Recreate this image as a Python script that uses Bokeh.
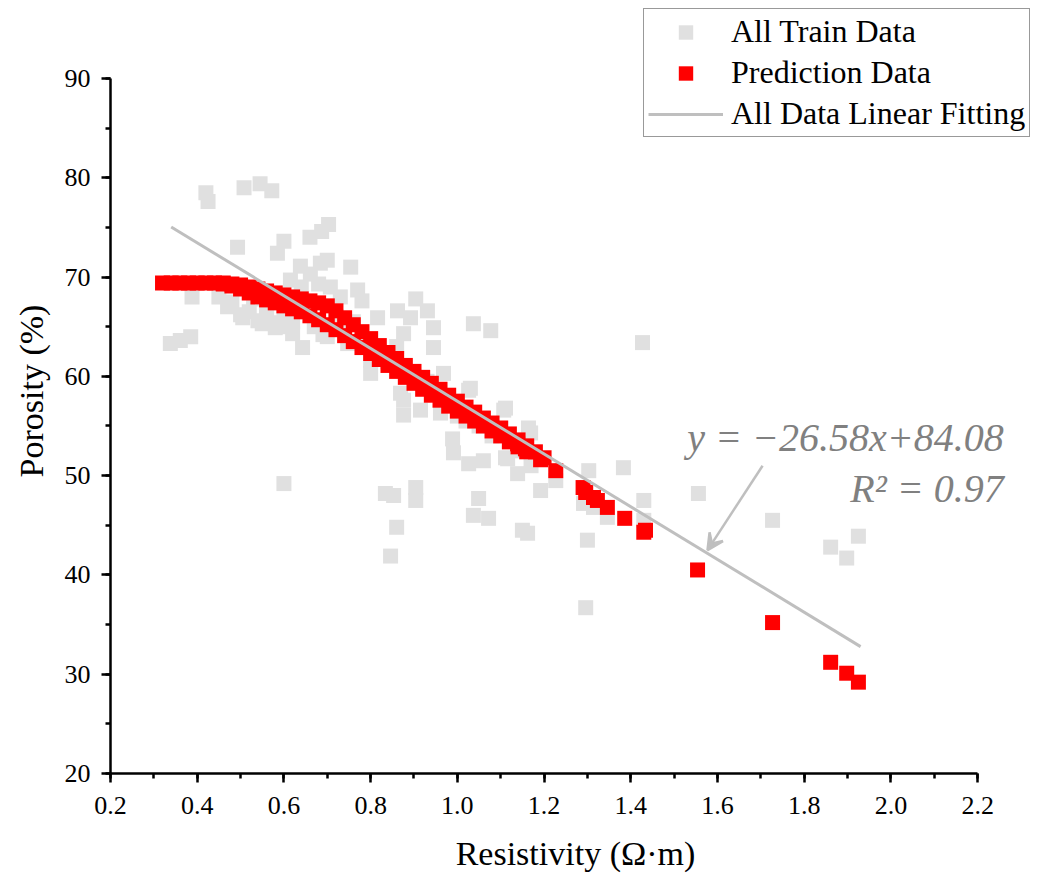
from bokeh.plotting import figure
from bokeh.models import (Legend, LegendItem, Label, Arrow, VeeHead, NumeralTickFormatter,
                          SingleIntervalTicker, Range1d)
from bokeh.embed import file_html
from bokeh.resources import INLINE

# ---- data ----
train_x = [0.420, 0.425, 0.508, 0.545, 0.572, 0.493, 0.600, 0.585, 0.660, 0.687, 0.703,
           0.638, 0.684, 0.388, 0.450, 0.505, 0.550, 0.580, 0.620, 0.643, 0.361, 0.385,
           0.338, 0.615, 0.661, 0.700, 0.754, 0.707, 0.770, 0.780, 0.904, 0.931, 0.862,
           0.816, 0.892, 0.945, 1.037, 1.077, 0.747, 0.800, 0.800, 0.876, 0.945, 0.869,
           0.968, 1.030, 0.876, 0.876, 0.915, 0.961, 1.026, 0.989, 0.991, 1.026, 1.060,
           1.107, 1.116, 0.834, 0.853, 0.904, 0.904, 1.049, 1.037, 1.072, 0.860, 0.846,
           1.427, 1.111, 1.164, 1.169, 1.111, 1.139, 1.227, 1.192, 1.303, 1.383, 1.291,
           1.314, 1.346, 1.430, 1.430, 1.150, 1.162, 1.300, 1.296, 1.556, 1.727, 1.861,
           1.898, 1.925, 0.600,
           0.480, 0.520, 0.530, 0.560, 0.600, 0.620, 0.650, 0.670, 0.690, 0.720, 0.740,
           0.760, 0.780, 0.820, 0.840, 0.860, 0.880, 0.900, 0.930, 0.950, 0.980, 1.000,
           1.020, 1.050, 1.080, 1.120, 1.140, 1.170, 0.640, 0.680, 0.730, 0.500, 0.590,
           0.470, 0.540, 0.560, 0.610, 0.700]
train_y = [78.5, 77.6, 79.0, 79.4, 78.7, 73.0, 73.6, 72.4, 74.0, 74.6, 75.3,
           71.1, 71.4, 68.0, 68.0, 65.9, 65.3, 64.9, 64.3, 62.9, 63.6, 64.0,
           63.3, 69.7, 70.3, 71.7, 71.0, 69.0, 68.7, 67.6, 67.8, 66.6, 66.6,
           65.9, 65.9, 64.9, 65.3, 64.6, 63.3, 61.6, 60.3, 64.3, 62.9, 58.3,
           60.3, 58.8, 57.6, 56.1, 56.6, 56.3, 58.6, 53.7, 52.3, 51.2, 51.5,
           56.6, 51.7, 48.2, 48.0, 48.8, 47.5, 47.7, 46.0, 45.7, 44.8, 41.9,
           63.4, 56.8, 54.8, 54.3, 51.8, 50.2, 49.5, 48.5, 50.5, 50.8, 47.2,
           46.8, 45.8, 47.5, 45.5, 44.5, 44.2, 43.5, 36.7, 48.2, 45.5, 42.8,
           41.7, 43.9, 49.2,
           67.5, 66.5, 67.8, 66.0, 66.5, 65.5, 66.8, 65.0, 64.2, 66.0, 64.8,
           65.5, 63.5, 62.5, 61.5, 63.0, 61.0, 60.0, 59.5, 58.5, 57.5, 56.0,
           55.5, 55.0, 54.0, 53.5, 52.5, 51.0, 69.0, 69.3, 68.0, 66.2, 65.4,
           67.0, 65.6, 66.8, 65.0, 64.0]

pred_x = [0.32, 0.34, 0.36, 0.38, 0.40, 0.42, 0.44, 0.46, 0.48, 0.50, 0.52, 0.54, 0.56,
          0.58, 0.60, 0.62, 0.64, 0.66, 0.68, 0.70, 0.72, 0.74, 0.76, 0.78, 0.80, 0.82,
          0.84, 0.86, 0.88, 0.90, 0.92, 0.94, 0.96, 0.98, 1.00, 1.02, 1.04, 1.06, 1.08,
          1.10, 1.12, 1.14, 1.16, 1.18, 1.20,
          0.46, 0.48, 0.50, 0.52, 0.54, 0.56, 0.58, 0.60, 0.62, 0.64, 0.66, 0.68, 0.70,
          0.72, 0.74, 0.76, 0.78, 0.80, 0.82, 0.84, 0.86, 0.88, 0.90, 0.92, 0.94, 0.96,
          0.98, 1.00, 1.02, 1.04, 1.06, 1.08, 1.10, 1.12, 1.14, 1.16,
          1.139, 1.157, 1.192, 1.227, 1.290, 1.296, 1.314, 1.323, 1.346, 1.386, 1.430,
          1.434, 1.554, 1.727, 1.861, 1.898, 1.925]
pred_y = [69.4, 69.4, 69.4, 69.4, 69.4, 69.4, 69.4, 69.4, 69.3, 69.2, 69.0, 68.8, 68.6,
          68.4, 68.2, 68.0, 67.8, 67.6, 67.4, 67.1, 66.6, 65.9, 65.2, 64.5, 63.8, 63.1,
          62.4, 61.8, 61.1, 60.5, 59.9, 59.3, 58.7, 58.1, 57.5, 56.9, 56.4, 55.8, 55.3,
          54.8, 54.2, 53.6, 53.0, 52.4, 51.8,
          69.3, 69.1, 68.8, 68.4, 68.0, 67.7, 67.4, 67.1, 66.8, 66.5, 66.1, 65.7, 65.2,
          64.7, 64.1, 63.5, 62.9, 62.3, 61.7, 61.1, 60.5, 59.9, 59.3, 58.7, 58.1, 57.6,
          57.0, 56.5, 56.0, 55.5, 55.0, 54.5, 54.0, 53.4, 52.9, 52.4,
          53.2, 52.7, 51.6, 50.5, 48.8, 48.3, 47.8, 47.5, 46.8, 45.7, 44.3,
          44.5, 40.5, 35.2, 31.2, 30.1, 29.2]

fit_slope = -26.58
fit_intercept = 84.08
fit_x = [0.34, 1.93]
fit_y = [fit_slope * v + fit_intercept for v in fit_x]

FONT = "Liberation Serif"

# frame extends past the axes so that the legend and equation are not clipped;
# axis bounds keep the axes on 0.2–2.2 and 20–90
p = figure(width=1043, height=884, output_backend="svg", toolbar_location=None,
           x_range=Range1d(0.2, 2.345), y_range=Range1d(20, 97.05),
           min_border_left=110, min_border_right=3, min_border_top=8, min_border_bottom=111)
p.outline_line_color = None
p.grid.visible = False
p.background_fill_color = "white"

r_train = p.scatter(train_x, train_y, marker="square", size=15, fill_color="#e0e0e0",
                    line_color=None)
r_pred = p.scatter(pred_x, pred_y, marker="square", size=15, fill_color="#ff0000",
                   line_color=None)
r_fit = p.line(fit_x, fit_y, line_color="#bfbfbf", line_width=3)

for ax in (p.xaxis[0], p.yaxis[0]):
    ax.axis_line_width = 2.5
    ax.axis_line_color = "black"
    ax.major_tick_line_width = 2.5
    ax.minor_tick_line_width = 2.5
    ax.major_tick_out = 9
    ax.major_tick_in = 0
    ax.minor_tick_out = 5
    ax.minor_tick_in = 0
    ax.major_label_text_font = FONT
    ax.major_label_text_font_size = "26px"
    ax.major_label_text_color = "black"
    ax.axis_label_text_font = FONT
    ax.axis_label_text_font_size = "34px"
    ax.axis_label_text_font_style = "normal"
    ax.axis_label_text_color = "black"

p.xaxis.bounds = (0.2, 2.2)
p.yaxis.bounds = (20, 90)
p.xaxis.ticker = SingleIntervalTicker(interval=0.2, num_minor_ticks=2)
p.yaxis.ticker = SingleIntervalTicker(interval=10, num_minor_ticks=2)
p.xaxis.formatter = NumeralTickFormatter(format="0.0")
p.xaxis.axis_label = "Resistivity (Ω·m)"
p.yaxis.axis_label = "Porosity (%)"
p.xaxis.major_label_standoff = 14
p.yaxis.major_label_standoff = 11
p.xaxis.axis_label_standoff = 18
p.yaxis.axis_label_standoff = 12

# equation annotation
p.add_layout(Label(x=2.26, y=53.85, text="y = −26.58x+84.08", text_align="right",
                   text_baseline="middle", text_font=FONT, text_font_size="40px",
                   text_font_style="italic", text_color="#808080"))
p.add_layout(Label(x=2.26, y=48.7, text="R² = 0.97", text_align="right",
                   text_baseline="middle", text_font=FONT, text_font_size="40px",
                   text_font_style="italic", text_color="#808080"))
p.add_layout(Arrow(x_start=1.704, y_start=51.0, x_end=1.577, y_end=42.5,
                   line_color="#bfbfbf", line_width=2.5,
                   end=VeeHead(size=16, line_color="#bfbfbf", line_width=2.5,
                               fill_color="#bfbfbf")))

legend = Legend(items=[LegendItem(label="All Train Data", renderers=[r_train]),
                       LegendItem(label="Prediction Data", renderers=[r_pred]),
                       LegendItem(label="All Data Linear Fitting", renderers=[r_fit])],
                location=(533, 636))
legend.label_text_font = FONT
legend.label_text_font_size = "32px"
legend.label_text_color = "black"
legend.glyph_width = 75
legend.glyph_height = 36
legend.label_height = 36
legend.label_standoff = 8
legend.spacing = 4
legend.padding = 4
legend.margin = 0
legend.border_line_color = "#333333"
legend.border_line_width = 1.5
legend.background_fill_color = "white"
legend.background_fill_alpha = 1.0
p.add_layout(legend, "center")

open("out.html", "w").write(file_html(p, INLINE))
